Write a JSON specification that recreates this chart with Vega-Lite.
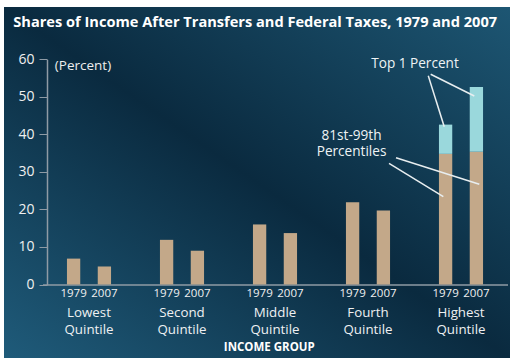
{
  "$schema": "https://vega.github.io/schema/vega-lite/v6.json",
  "width": 506,
  "height": 351,
  "autosize": {"type": "none"},
  "padding": {"left": 4, "top": 7, "right": 9, "bottom": 5},
  "background": "white",
  "config": {
    "font": "Open Sans",
    "view": {
      "stroke": null,
      "fill": {
        "gradient": "linear",
        "x1": 0, "y1": 1, "x2": 1, "y2": 0,
        "stops": [
          {"offset": 0, "color": "#1f5b7a"},
          {"offset": 0.5, "color": "#0a2a3f"},
          {"offset": 1, "color": "#1d5673"}
        ]
      }
    }
  },
  "title": {
    "text": "Shares of Income After Transfers and Federal Taxes, 1979 and 2007",
    "anchor": "start",
    "frame": "group",
    "orient": "top",
    "offset": -34.4,
    "baseline": "alphabetic",
    "dx": 9.3,
    "font": "Open Sans",
    "fontSize": 14.6,
    "fontWeight": "bold",
    "color": "#ffffff"
  },
  "datasets": {
    "shares": [
      {"group": "Lowest Quintile", "year": "1979", "part": "base", "value": 6.9},
      {"group": "Lowest Quintile", "year": "2007", "part": "base", "value": 4.8},
      {"group": "Second Quintile", "year": "1979", "part": "base", "value": 11.9},
      {"group": "Second Quintile", "year": "2007", "part": "base", "value": 9.0},
      {"group": "Middle Quintile", "year": "1979", "part": "base", "value": 16.0},
      {"group": "Middle Quintile", "year": "2007", "part": "base", "value": 13.7},
      {"group": "Fourth Quintile", "year": "1979", "part": "base", "value": 21.9},
      {"group": "Fourth Quintile", "year": "2007", "part": "base", "value": 19.7},
      {"group": "Highest Quintile", "year": "1979", "part": "base", "value": 34.8},
      {"group": "Highest Quintile", "year": "2007", "part": "base", "value": 35.4},
      {"group": "Highest Quintile", "year": "1979", "part": "top1", "value": 7.8},
      {"group": "Highest Quintile", "year": "2007", "part": "top1", "value": 17.2}
    ],
    "notes": [
      {"label": "Top 1 Percent", "x": 4.005, "y": 58.75},
      {"label": "81st-99th", "x": 3.323, "y": 39.65},
      {"label": "Percentiles", "x": 3.323, "y": 35.38}
    ],
    "leaders": [
      {"x1": 4.148, "y1": 55.64, "x2": 4.32, "y2": 42.05},
      {"x1": 4.174, "y1": 56.01, "x2": 4.643, "y2": 50.23},
      {"x1": 3.801, "y1": 33.79, "x2": 4.697, "y2": 26.7},
      {"x1": 3.726, "y1": 32.29, "x2": 4.31, "y2": 23.39}
    ]
  },
  "layer": [
    {
      "layer": [
        {
          "data": {"name": "shares"},
          "mark": {"type": "bar"},
          "encoding": {
            "x": {
              "field": "group",
              "type": "nominal",
              "sort": ["Lowest Quintile", "Second Quintile", "Middle Quintile", "Fourth Quintile", "Highest Quintile"],
              "scale": {"range": [38.5, 503.5], "paddingInner": 0, "paddingOuter": 0},
              "axis": {
                "orient": "bottom",
                "offset": -73.5,
                "title": "INCOME GROUP",
                "titleFont": "Open Sans",
                "titleFontSize": 11.5,
                "titleFontWeight": "bold",
                "titleColor": "#ffffff",
                "titleX": 264.8,
                "titleY": 63.3,
                "titleBaseline": "middle",
                "labelAngle": 0,
                "labelExpr": "split(datum.value, ' ')[0]",
                "labelFontSize": 13.3,
                "labelPadding": 27.8,
                "labelBaseline": "middle",
                "labelColor": "#eef0f2",
                "ticks": false,
                "domainColor": "#8f9ba5",
                "domainWidth": 1.5
              }
            },
            "xOffset": {
              "field": "year",
              "type": "nominal",
              "scale": {"paddingInner": 0.568, "paddingOuter": 0.794}
            },
            "y": {
              "field": "value",
              "type": "quantitative",
              "stack": "zero",
              "scale": {"domain": [0, 60], "range": [277.5, 52.3], "nice": false},
              "axis": {
                "offset": -43,
                "values": [0, 10, 20, 30, 40, 50, 60],
                "grid": false,
                "tickSize": 8,
                "tickColor": "#8f9ba5",
                "domainColor": "#8f9ba5",
                "domainWidth": 1.5,
                "labelColor": "#f0f0f0",
                "labelFontSize": 14,
                "labelPadding": 5,
                "title": "(Percent)",
                "titleAngle": 0,
                "titleX": 7.3,
                "titleY": 58.5,
                "titleAlign": "left",
                "titleBaseline": "middle",
                "titleFontSize": 13.5,
                "titleFontWeight": "normal",
                "titleColor": "#eeeeee"
              }
            },
            "color": {
              "field": "part",
              "type": "nominal",
              "scale": {"domain": ["base", "top1"], "range": ["#c3a889", "#9ad8dc"]},
              "legend": null
            },
            "order": {"field": "part", "sort": "ascending"}
          }
        },
        {
          "data": {"name": "shares"},
          "transform": [{"filter": "datum.part === 'base'"}],
          "mark": {"type": "text", "dy": 9.7, "baseline": "middle", "align": "center", "fontSize": 11.5, "color": "#f0f0f0"},
          "encoding": {
            "x": {
              "field": "group",
              "type": "nominal",
              "sort": ["Lowest Quintile", "Second Quintile", "Middle Quintile", "Fourth Quintile", "Highest Quintile"]
            },
            "xOffset": {"field": "year", "type": "nominal"},
            "y": {"datum": 0, "type": "quantitative"},
            "text": {"field": "year"}
          }
        },
        {
          "data": {"name": "shares"},
          "transform": [
            {"filter": "datum.part === 'base' && datum.year === '1979'"},
            {"calculate": "split(datum.group, ' ')[1]", "as": "line2"}
          ],
          "mark": {"type": "text", "dy": 45.3, "baseline": "middle", "align": "center", "fontSize": 13.3, "color": "#eef0f2"},
          "encoding": {
            "x": {
              "field": "group",
              "type": "nominal",
              "sort": ["Lowest Quintile", "Second Quintile", "Middle Quintile", "Fourth Quintile", "Highest Quintile"]
            },
            "y": {"datum": 0, "type": "quantitative"},
            "text": {"field": "line2"}
          }
        }
      ]
    },
    {
      "layer": [
        {
          "data": {"name": "leaders"},
          "mark": {"type": "rule", "color": "#e8eef0", "strokeWidth": 1.5},
          "encoding": {
            "x": {"field": "x1", "type": "quantitative", "scale": {"domain": [0, 5], "range": [38.5, 503.5], "nice": false, "zero": false}, "axis": null},
            "x2": {"field": "x2"},
            "y": {"field": "y1", "type": "quantitative"},
            "y2": {"field": "y2"}
          }
        },
        {
          "data": {"name": "notes"},
          "mark": {"type": "text", "align": "center", "baseline": "middle", "fontSize": 13.6, "color": "#eef3f5"},
          "encoding": {
            "x": {"field": "x", "type": "quantitative"},
            "y": {"field": "y", "type": "quantitative"},
            "text": {"field": "label"}
          }
        }
      ]
    }
  ],
  "resolve": {"scale": {"x": "independent"}}
}
